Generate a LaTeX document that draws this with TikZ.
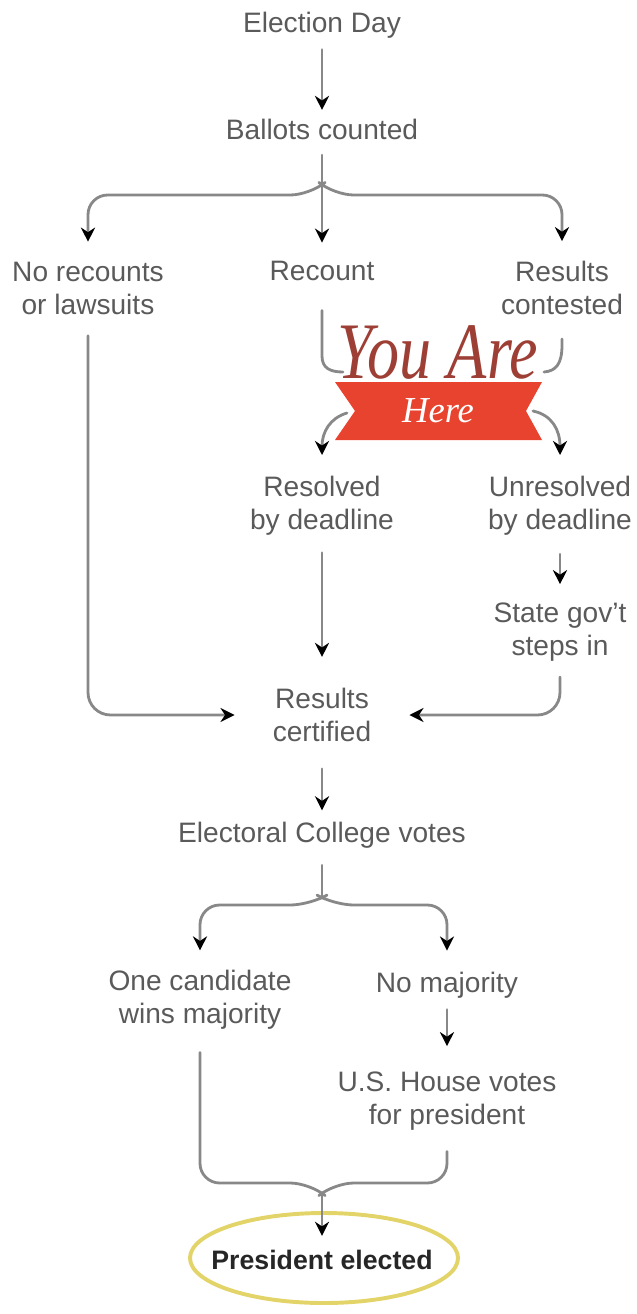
\documentclass[tikz,border=0pt]{standalone}
\usepackage{fontspec}
\setmainfont{Liberation Sans}
\newfontfamily\youfont{Liberation Serif}
\usetikzlibrary{arrows.meta,calc,positioning}
\definecolor{txtgray}{HTML}{5A5A5A}
\definecolor{linegray}{HTML}{888888}
\definecolor{herered}{HTML}{E8432F}
\definecolor{youred}{HTML}{9E3F36}
\definecolor{ringyellow}{HTML}{E3D46A}
\begin{document}
\begin{tikzpicture}[x=0.25mm,y=-0.25mm,line join=round,line cap=round,
		lbl/.style={text=txtgray,align=center,inner sep=0pt,font=\fontsize{20}{23.5}\selectfont},
		lin/.style={draw=linegray,line width=2pt},
		arr/.style={lin,-{Stealth[length=10pt,width=10pt,color=black,fill=black]}}]
		\useasboundingbox (0,0) rectangle (636,1314);
		\node[lbl] (eday) at (322,25) {Election Day};
		\node[lbl] (count) at (322,129) {Ballots counted};
		\node[lbl] (norec) at (88,288) {No recounts\\or lawsuits};
		\node[lbl] (recount) at (322,271) {Recount};
		\node[lbl] (contest) at (562,288) {Results\\contested};
		\node[anchor=base,inner sep=0pt,xscale=0.8,text=youred,font=\youfont\itshape\fontsize{57}{57}\selectfont] (youare) at (438,378) {You Are};
		\fill[herered] (335,382) -- (542,382) -- (526,411) -- (542,440) -- (335,440) -- (355,411) -- cycle;
		\node[inner sep=0pt,text=white,font=\youfont\itshape\fontsize{26}{26}\selectfont] (here) at (438,411) {Here};
		\node[lbl] (resolved) at (322,506) {Resolved\\by deadline};
		\node[lbl] (unres) at (560,506) {Unresolved\\by deadline};
		\node[lbl] (state) at (560,632) {State gov't\\steps in};
		\node[lbl] (cert) at (322,715) {Results\\certified};
		\node[lbl] (ecv) at (322,835) {Electoral College votes};
		\node[lbl] (onewin) at (200,1000) {One candidate\\wins majority};
		\node[lbl] (nomaj) at (447,985) {No majority};
		\node[lbl] (house) at (447,1101) {U.S. House votes\\for president};
		\node[lbl,text=black!85,font=\bfseries\fontsize{19}{23}\selectfont] (pres) at (322,1260) {President elected};
		\coordinate (tipA) at (322,185);
		\coordinate (tipB) at (322,898);
		\coordinate (tipC) at (322,1193);
		
		\draw[arr,shorten <=8pt,shorten >=6pt] (eday) -- (count);
		\draw[arr,shorten <=11pt,shorten >=13pt] (count) -- (recount);
		\draw[arr,rounded corners=14,shorten >=14pt] (tipA) -- ++(-12,10) -| (norec);
		\draw[arr,rounded corners=14,shorten >=14pt] (tipA) -- ++(12,10) -| (contest);
		\draw[lin,shorten <=21pt] (recount) -- (322,356) .. controls (322,368) and (330,372) .. (343,372);
		\draw[lin,shorten <=17pt] (contest) -- (562,345) .. controls (562,364) and (556,371) .. (544,372);
		\draw[arr,shorten >=15pt] (347,413) .. controls (330,418) and (322,432) .. (resolved);
		\draw[arr,shorten >=15pt] (533,411) .. controls (552,415) and (560,430) .. (unres);
		\draw[arr,shorten <=13pt,shorten >=13pt] (unres) -- (state);
		\draw[arr,shorten <=12pt,shorten >=22pt] (resolved) -- (cert);
		\draw[arr,rounded corners=16,shorten <=15pt,shorten >=27pt] (norec) |- (cert);
		\draw[arr,rounded corners=16,shorten <=11pt,shorten >=27pt] (state) |- (cert);
		\draw[arr,shorten <=19pt,shorten >=8pt] (cert) -- (ecv);
		\draw[lin,shorten <=12pt] (ecv) -- (tipB);
		\draw[arr,rounded corners=14,shorten >=14pt] (tipB) -- ++(-12,7) -| (onewin);
		\draw[arr,rounded corners=14,shorten >=15pt] (tipB) -- ++(12,7) -| (nomaj);
		\draw[arr,shorten <=8pt,shorten >=18pt] (nomaj) -- (house);
		\draw[lin,rounded corners=14,shorten <=16pt] (onewin) |- ($(tipC)+(-12,-10)$) -- (tipC);
		\draw[lin,rounded corners=14,shorten <=15pt] (house) |- ($(tipC)+(12,-10)$) -- (tipC);
		\draw[ringyellow,line width=2.8pt] (324,1258) ellipse (134 and 45);
		\draw[arr,shorten >=10pt] (tipC) -- (pres);
	\end{tikzpicture}
\end{document}
